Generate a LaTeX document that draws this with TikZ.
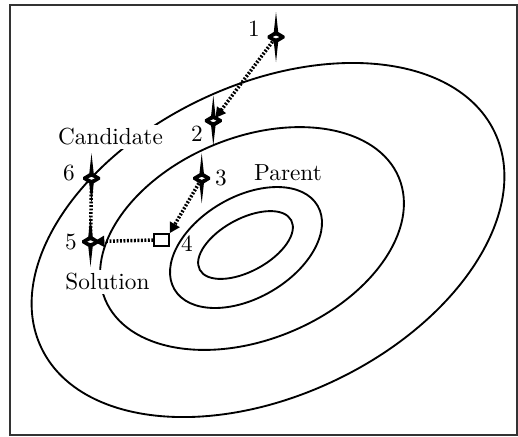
\documentclass[tikz,border=0pt]{standalone}
\usepackage{tikz}
\usetikzlibrary{arrows.meta}
\tikzset{
  contour/.style={line width=0.8pt},
  trail/.style={line width=1.5pt, dash pattern=on 0.8pt off 0.7pt},
  trailtip/.style={trail, -{Triangle[length=4.4pt,width=4.6pt]}},
  tag/.style={font=\normalsize, inner sep=1pt},
  wordtag/.style={font=\normalsize, inner sep=1.5pt, fill=white},
  sqbox/.style={draw, fill=white, line width=0.7pt, minimum width=6.4pt,
    minimum height=5.2pt, inner sep=0pt},
  sparkle/.pic={
    \fill (0,-25) -- (2.2,-5) -- (8.5,-1.2) -- (8.5,1.2) -- (2.2,5) -- (0,25)
      -- (-2.2,5) -- (-8.5,1.2) -- (-8.5,-1.2) -- (-2.2,-5) -- cycle;
    \filldraw[fill=white, draw=black, line width=0.5pt]
      (-5,0) -- (0,-2.2) -- (5,0) -- (0,2.2) -- cycle;
  },
}

\begin{document}
\begin{tikzpicture}[x=0.43pt,y=-0.43pt]
\useasboundingbox (0,0) rectangle (518,436);
% frame
\draw[black!80, line width=0.8pt] (10,5) rectangle (517,435);
% level sets
\draw[contour, rotate around={25.4:(268,240)}] (268,240) ellipse [x radius=251, y radius=155.6];
\draw[contour, rotate around={22.5:(252,238.5)}] (252,238.5) ellipse [x radius=159, y radius=101];
\draw[contour, rotate around={30.3:(246,247.5)}] (246,247.5) ellipse [x radius=82.9, y radius=50.6];
\draw[contour, rotate around={28.5:(245.5,245)}] (245.5,245) ellipse [x radius=52, y radius=26.3];
% words
\node[wordtag] (cand) at (110.5,137) {Candidate};
\node[wordtag] (sol) at (107.5,282) {Solution};
\node[tag] (par) at (288,173) {Parent};
% sample points
\node[coordinate] (s1) at (276,37) {};
\node[coordinate] (s2) at (213.3,120.7) {};
\node[coordinate] (s3) at (201.7,178.3) {};
\node[sqbox] (s4) at (161.5,240) {};
\node[coordinate] (s5) at (90.5,241.7) {};
\node[coordinate] (s6) at (91.5,178.3) {};
% moves
\draw[trailtip, shorten <=2.5pt, shorten >=1.5pt] (s1) -- (s2);
\draw[trailtip, shorten <=2.5pt] (s3) -- (s4.north east);
\draw[trailtip, shorten >=1.5pt] (s4.west) -- (s5);
\draw[trail, shorten <=1pt] (s6) -- (s5);
% markers
\foreach \s in {s1,s2,s3,s5,s6}
  \pic at (\s) {sparkle};
% numbers
\node[tag] (l1) at (254,29) {1};
\node[tag] (l2) at (197,134) {2};
\node[tag] (l3) at (221,178) {3};
\node[tag] (l4) at (187,244) {4};
\node[tag] (l5) at (71,242) {5};
\node[tag] (l6) at (69,173) {6};
\end{tikzpicture}
\end{document}
